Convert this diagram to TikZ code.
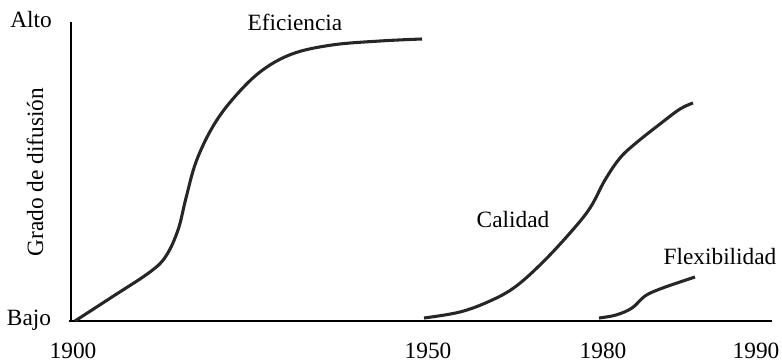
\documentclass[tikz,border=0pt]{standalone}
\usepackage{fontspec}
\setmainfont{Liberation Serif}
\usepackage{tikz}

\begin{document}
\begin{tikzpicture}[x=0.75pt,y=-0.75pt,every node/.style={font=\fontsize{17.5}{20}\selectfont}]
\useasboundingbox (0,0) rectangle (782,363);

%Axes
\coordinate (origin) at (71,321);
\coordinate (ytop) at (71,22);
\coordinate (xend) at (772,321);
\draw[line width=1.6pt] (ytop) -- (origin);
\draw[line width=1.6pt] (69,321) -- (xend);

%Axis labels
\node (alto) at (31,20) {Alto};
\node (bajo) at (29,320) {Bajo};
\node[rotate=90] (grado) at (35,172) {Grado de difusi\'on};
\node[inner sep=1pt] (y1900) at (73,351) {1900};
\node[inner sep=1pt] (y1950) at (428,351) {1950};
\node[inner sep=1pt] (y1980) at (603,351) {1980};
\node[inner sep=1pt] (y1990) at (756,351) {1990};

%Curves
\draw[line width=2.3pt,black!85] plot[smooth,tension=0.6] coordinates {(75,321) (112,297) (150,272) (166,256) (178,230) (186,198) (196,162) (212,128) (232,100) (260,72) (292,54) (332,45) (380,41) (422,39)};
\node (efic) at (295,22) {Eficiencia};

\draw[line width=2.3pt,black!85] plot[smooth,tension=0.6] coordinates {(424,318) (460,312) (490,301) (515,287) (542,263) (570,233) (590,208) (605,180) (620,158) (636,143) (660,124) (680,109) (693,103)};
\node (calid) at (513,220) {Calidad};

\draw[line width=2.3pt,black!85] plot[smooth,tension=0.6] coordinates {(599,318) (616,315) (632,308) (645,296) (660,289) (680,282) (695,277)};
\node (flex) at (720,257) {Flexibilidad};

\end{tikzpicture}
\end{document}
